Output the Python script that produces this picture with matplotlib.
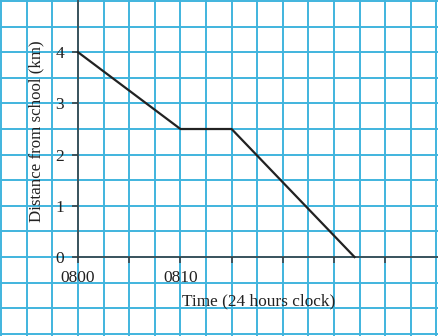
import numpy as np
import matplotlib.pyplot as plt

# Journey data: minutes after 0800, distance from school (km)
minutes = [0, 10, 15, 27]
distance = [4, 2.5, 2.5, 0]

x_ticks = [0, 5, 10, 15, 20, 25, 30]
x_labels = ["0800", "", "0810", "", "", "", ""]
y_ticks = [0, 1, 2, 3, 4]

plt.rcParams['font.family'] = ['Liberation Serif', 'DejaVu Serif']

fig = plt.figure(figsize=(4.39, 3.36), dpi=100)
ax = fig.add_axes([0, 0, 1, 1])

# graph paper: 2.5 min by 0.5 km squares
ax.set_xlim(-7.62, 35.25)
ax.set_ylim(-1.543, 5.02)
grid_col = '#40b4de'
for gx in np.arange(-7.5, 36, 2.5):
    ax.axvline(gx, color=grid_col, lw=1.4, zorder=0)
for gy in np.arange(-1.5, 5.1, 0.5):
    ax.axhline(gy, color=grid_col, lw=1.4, zorder=0)

for side in ['top', 'right']:
    ax.spines[side].set_visible(False)
ax.spines['left'].set_position(('data', 0))
ax.spines['bottom'].set_position(('data', 0))
ax.spines['left'].set_bounds(0, 5.02)
ax.spines['bottom'].set_bounds(0, 35.25)
for side in ['left', 'bottom']:
    ax.spines[side].set_color('#3a3a3a')
    ax.spines[side].set_linewidth(1.1)

ax.plot(minutes, distance, color='#222222', lw=1.6, zorder=3)

ax.set_xticks(x_ticks)
ax.set_xticklabels(x_labels)
ax.set_yticks(y_ticks)
ax.tick_params(axis='both', direction='out', length=4, width=1.1,
               color='#3a3a3a', labelsize=12.5, labelcolor='#222222')
ax.tick_params(axis='x', pad=5)
ax.tick_params(axis='y', pad=6)

ax.text(-4.1, 2.46, "Distance from school (km)", rotation=90, fontsize=12.2,
        ha='center', va='center', color='#222222')
ax.text(17.6, -0.87, "Time (24 hours clock)", fontsize=12.4,
        ha='center', va='center', color='#222222')

fig.savefig("out.png", dpi=100)
